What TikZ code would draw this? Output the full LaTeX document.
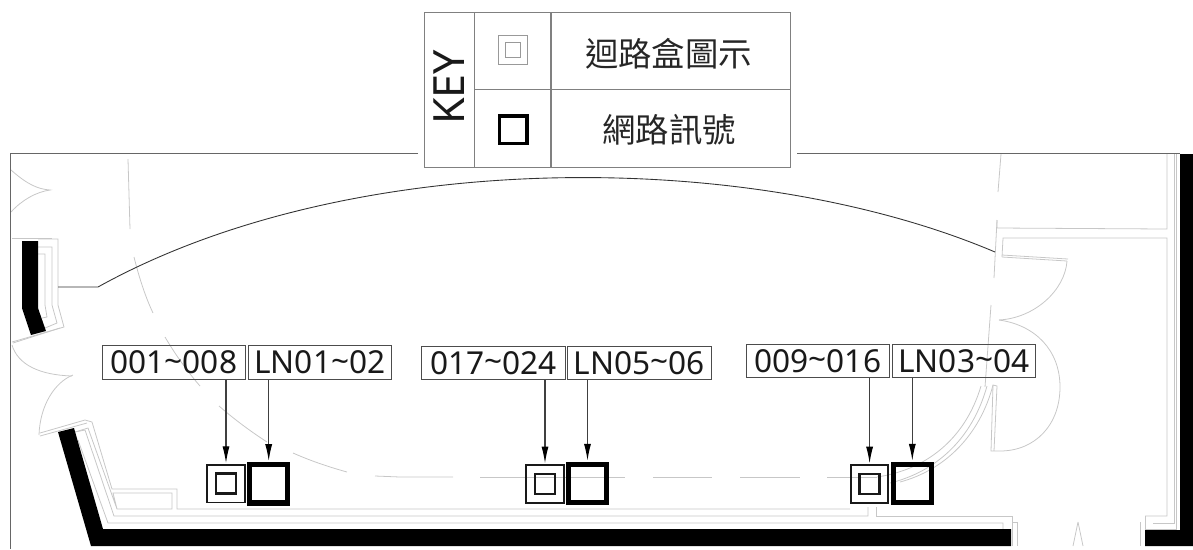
\documentclass[tikz,border=0pt]{standalone}
\usepackage{fontspec}
\setmainfont{Noto Sans}
\newfontfamily\cjkfont{Noto Sans CJK TC}
\usetikzlibrary{arrows.meta,positioning}
\tikzset{
plan/.style={draw=black!22,line width=0.45pt},
wall/.style={fill=black,draw=none},
frame/.style={draw=black!60,line width=0.7pt},
keycell/.style={rectangle,draw=black!50,line width=0.55pt,inner sep=0pt},
keytext/.style={inner sep=0pt,font=\cjkfont\fontsize{19}{19}\selectfont,text=black!85},
tag/.style={rectangle,draw=black!70,line width=0.55pt,inner sep=0pt,minimum width=2.874cm,minimum height=0.67cm,font=\fontsize{18}{18}\selectfont,text=black!90},
boxout/.style={rectangle,draw=black!90,line width=1pt,inner sep=0pt,minimum size=0.75cm},
boxin/.style={rectangle,draw=black!90,line width=1.5pt,inner sep=0pt,minimum size=0.4cm},
netbox/.style={rectangle,draw=black,line width=2.9pt,inner sep=0pt,minimum size=0.77cm},
lead/.style={draw=black!75,line width=0.6pt,-{Latex[length=9.5pt,width=4pt,black]},shorten >=0.6pt},
}
\begin{document}
\begin{tikzpicture}[x=0.02cm,y=-0.02cm]
\useasboundingbox (0,0) rectangle (1193,549);
\draw[plan] (11,170) .. controls (28,185) and (38,189) .. (50,190) .. controls (36,192) and (22,200) .. (11,212);
\draw[plan] (128,159) -- (130,229);
\draw[plan] (134,257) .. controls (139,277) and (145,296) .. (153,313);
\draw[plan] (165,337) .. controls (175,354) and (187,371) .. (200,386);
\draw[plan] (219,406) .. controls (234,419) and (250,431) .. (267,442);
\draw[plan] (293,453) .. controls (311,461) and (329,467) .. (347,472);
\draw[plan] (375,476) -- (400,477) -- (453,477);
\draw[plan] (480,477) -- (625,477);
\draw[plan] (653,477) -- (712,477);
\draw[plan] (740,477) -- (800,477);
\draw[plan] (827,477) -- (877,477);
\draw[plan] (12,238) -- (52,238);
\draw[plan] (38,239) -- (58,239) -- (58,305) -- (64,327) -- (12,342);
\draw[plan] (38,247) -- (52,247) -- (52,305) -- (57,323) -- (45,328);
\draw[plan] (38,254) -- (45,254) -- (45,305) -- (47,317) -- (42,318);
\draw[plan] (60,328) -- (13,343);
\draw[plan] (12,345) .. controls (18,365) and (40,375) .. (72,376);
\draw[plan] (73,375) .. controls (55,382) and (40,405) .. (39,435);
\draw[plan] (40,433) -- (85,420) -- (92,422) -- (112,489) -- (177,489) -- (177,509) -- (850,509);
\draw[plan] (40,436) -- (87,423);
\draw[plan] (75,432) -- (88,428) -- (117,509) -- (172,509) -- (172,493) -- (113,493) -- (117,509);
\draw[plan] (75,432) -- (85,430) -- (114,516) -- (868,516) -- (868,507);
\draw[plan] (78,440) -- (108,523) -- (1003,523) -- (1003,529);
\draw[plan] (876,507) -- (876,516) -- (1012,516) -- (1012,546);
\draw[plan] (1012,522) -- (1017,522) -- (1017,546);
\draw[plan] (1078,522) -- (1073,546) (1078,522) -- (1083,546);
\draw[plan] (1140,522) -- (1140,546) (1145,516) -- (1145,546);
\draw[plan] (1145,516) -- (1167,516) -- (1167,238) -- (1003,238) -- (1002,257);
\draw[plan] (1167,154) -- (1167,229) -- (997,228) -- (997,220);
\draw[plan] (1174,154) -- (1174,523) -- (1153,523);
\draw[plan] (1176,154) -- (1176,529) -- (1145,529);
\draw[plan] (1001,154) -- (998,192);
\draw[plan] (997,220) -- (994,278);
\draw[plan] (991,305) -- (985,387);
\draw[plan] (1002,255) -- (1068,259) (1002,257) -- (1067,261);
\draw[plan] (1067,261) .. controls (1065,290) and (1035,318) .. (999,320);
\draw[plan] (999,320) .. controls (1035,325) and (1060,350) .. (1060,387) .. controls (1060,425) and (1035,451) .. (1000,451) -- (991,451) -- (993,385) -- (997,386) -- (994,451);
\draw[plan] (877,477) .. controls (925,470) and (965,440) .. (981,386);
\draw[plan] (890,483) .. controls (935,472) and (972,440) .. (987,386);
\draw[plan] (900,482) .. controls (945,470) and (980,435) .. (993,385);
\draw[frame] (418,153.7) -- (10.7,153.7) -- (10.7,549);
\draw[frame] (797,153.7) -- (1180,153.7);
\draw[black!80,line width=0.5pt] (58,287) -- (98,287) .. controls (350,147) and (750,148) .. (995,252);
\fill[wall] (22,241) -- (38,241) -- (38,308) -- (46,331) -- (31,335) -- (22,308) -- cycle;
\fill[wall] (58,432) -- (74,428) -- (103,529) -- (1011,529) -- (1011,546) -- (91,546) -- cycle;
\fill[wall] (1180,154) -- (1193,154) -- (1193,546) -- (1145,546) -- (1145,530) -- (1180,530) -- cycle;
\node (keyname) at (449.5,89.5) [keycell,minimum width=1cm,minimum height=3.1cm]{};
\node (keyicona) at (512.75,50.75) [keycell,minimum width=1.53cm,minimum height=1.55cm]{};
\node (keyiconb) at (512.75,128.25) [keycell,minimum width=1.53cm,minimum height=1.55cm]{};
\node (keytexta) at (670.5,50.75) [keycell,minimum width=4.79cm,minimum height=1.55cm]{};
\node (keytextb) at (670.5,128.25) [keycell,minimum width=4.79cm,minimum height=1.55cm]{};
\node (keyword) at (449.5,87.5) [inner sep=0pt,rotate=90,font=\fontsize{24.5}{24.5}\selectfont,text=black!90]{KEY};
\node (keyouter) at (513.3,49.7) [rectangle,draw=black!40,line width=0.5pt,inner sep=0pt,minimum size=0.58cm]{};
\node (keyinner) at (513.3,49.7) [rectangle,draw=black!40,line width=0.5pt,inner sep=0pt,minimum size=0.3cm]{};
\node (keynet) at (513,129.7) [rectangle,draw=black,line width=2pt,inner sep=0pt,minimum size=0.55cm]{};
\node (circuittext) at (668.5,53.5) [keytext]{迴路盒圖示};
\node (nettext) at (669,130) [keytext]{網路訊號};
\node (tagao) at (173.85,362.5) [tag]{001\raisebox{1pt}{\textasciitilde}008};
\node (tagan) at (319.85,362.5) [tag]{LN01\raisebox{1pt}{\textasciitilde}02};
\node (tagbo) at (493.35,362.8) [tag]{017\raisebox{1pt}{\textasciitilde}024};
\node (tagbn) at (639.35,362.8) [tag]{LN05\raisebox{1pt}{\textasciitilde}06};
\node (tagco) at (817.85,361.2) [tag]{009\raisebox{1pt}{\textasciitilde}016};
\node (tagcn) at (963.85,361.2) [tag]{LN03\raisebox{1pt}{\textasciitilde}04};
\node (boxao) at (226,483.7) [boxout]{};
\node (boxai) at (226,483.7) [boxin]{};
\node (boxan) at (268.7,483.7) [netbox]{};
\node (boxbo) at (545,483.9) [boxout]{};
\node (boxbi) at (545,483.9) [boxin]{};
\node (boxbn) at (587.5,483.4) [netbox]{};
\node (boxco) at (869.6,484) [boxout]{};
\node (boxci) at (869.6,484) [boxin]{};
\node (boxcn) at (912.3,483.4) [netbox]{};
\draw[lead] (tagao.south -| boxao.north) -- (boxao.north);
\draw[lead] (tagan.south -| boxan.north) -- (boxan.north);
\draw[lead] (tagbo.south -| boxbo.north) -- (boxbo.north);
\draw[lead] (tagbn.south -| boxbn.north) -- (boxbn.north);
\draw[lead] (tagco.south -| boxco.north) -- (boxco.north);
\draw[lead] (tagcn.south -| boxcn.north) -- (boxcn.north);
\end{tikzpicture}
\end{document}
